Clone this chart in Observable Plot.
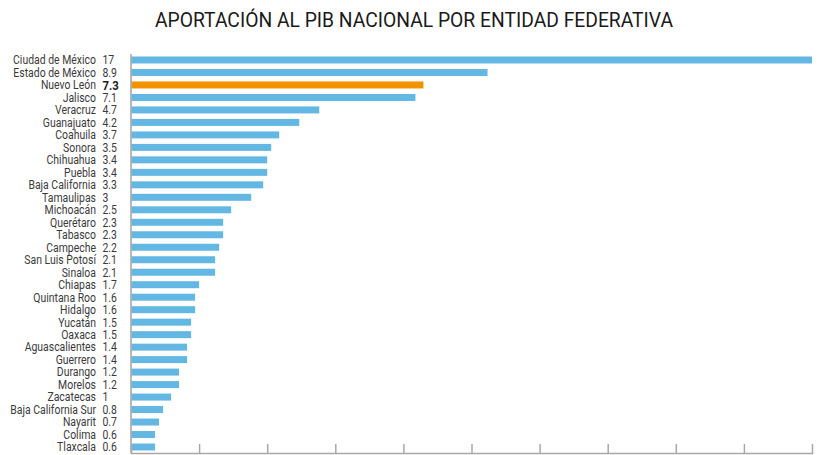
<!DOCTYPE html>
<html>
<head>
<meta charset="utf-8">
<script src="https://cdn.jsdelivr.net/npm/d3@7"></script>
<script src="https://cdn.jsdelivr.net/npm/@observablehq/plot@0.6"></script>
<style>
  html, body { margin: 0; padding: 0; background: #fff; }
  #wrap { position: relative; width: 819px; height: 455px; overflow: hidden; }
  #title { position: absolute; left: 155px; top: 8px; white-space: nowrap; transform-origin: 0 0;
    font-family: Roboto, "Liberation Sans", sans-serif; font-size: 20px; line-height: 24px; color: #1a1a1a; }
  #chart { position: absolute; left: 0; top: 40px; }
</style>
</head>
<body>
<div id="wrap">
  <div id="title">APORTACIÓN AL PIB NACIONAL POR ENTIDAD FEDERATIVA</div>
  <div id="chart"></div>
</div>
<script>
const estados = ["Ciudad de México","Estado de México","Nuevo León","Jalisco","Veracruz","Guanajuato","Coahuila","Sonora","Chihuahua","Puebla","Baja California","Tamaulipas","Michoacán","Querétaro","Tabasco","Campeche","San Luis Potosí","Sinaloa","Chiapas","Quintana Roo","Hidalgo","Yucatán","Oaxaca","Aguascalientes","Guerrero","Durango","Morelos","Zacatecas","Baja California Sur","Nayarit","Colima","Tlaxcala"];
const valores = [17,8.9,7.3,7.1,4.7,4.2,3.7,3.5,3.4,3.4,3.3,3,2.5,2.3,2.3,2.2,2.1,2.1,1.7,1.6,1.6,1.5,1.5,1.4,1.4,1.2,1.2,1,0.8,0.7,0.6,0.6];
const destacado = "Nuevo León";
const xTicks = [0,1.7,3.4,5.1,6.8,8.5,10.2,11.9,13.6,15.3,17];

const data = estados.map((e, i) => ({estado: e, valor: valores[i]}));
const font = 'Roboto, "Liberation Sans", sans-serif';

// fit title to the reference's width (condensed look)
const titleEl = document.getElementById("title");
const tw = titleEl.getBoundingClientRect().width;
titleEl.style.transform = `scaleX(${518 / tw})`;

const chart = Plot.plot({
  width: 819,
  height: 415,
  marginLeft: 131,
  marginRight: 7,
  marginTop: 14,
  marginBottom: 2,
  style: {fontFamily: font, fontSize: "12px", color: "#3a3a3a", background: "#fff", overflow: "visible"},
  x: {domain: [0, 17], axis: null},
  y: {domain: estados, axis: null, paddingInner: 0.44, paddingOuter: 0.2, round: false},
  color: {domain: [false, true], range: ["#63b7e3", "#f39200"]},
  marks: [
    Plot.barX(data, {y: "estado", x: "valor", fill: d => d.estado === destacado, insetLeft: 0.5}),
    Plot.ruleX([0], {stroke: "#a0a0a0", strokeWidth: 1.5, dx: -0.5}),
    Plot.frame({anchor: "bottom", stroke: "#a8a8a8", strokeWidth: 1.5}),
    Plot.axisX({ticks: xTicks, tickSize: -9, tickFormat: () => "", label: null, stroke: "#a8a8a8", strokeWidth: 1.5}),
    Plot.text(data, {y: "estado", text: "estado", frameAnchor: "left", textAnchor: "end", dx: -35.5, fill: "#3a3a3a", className: "lbl"}),
    Plot.text(data.filter(d => d.estado !== destacado), {y: "estado", text: d => String(d.valor), frameAnchor: "left", textAnchor: "start", dx: -29, fill: "#3a3a3a", className: "lbl"}),
    Plot.text(data.filter(d => d.estado === destacado), {y: "estado", text: d => String(d.valor), frameAnchor: "left", textAnchor: "start", dx: -29, fill: "#1a1a1a", fontWeight: "bold", fontSize: 13, className: "lbl"})
  ]
});
document.getElementById("chart").appendChild(chart);

// condense label glyphs slightly to match the narrow face of the reference
chart.querySelectorAll("g.lbl text").forEach(t => {
  const len = t.getComputedTextLength();
  t.setAttribute("textLength", (len * 0.87).toFixed(2));
  t.setAttribute("lengthAdjust", "spacingAndGlyphs");
});
</script>
</body>
</html>
